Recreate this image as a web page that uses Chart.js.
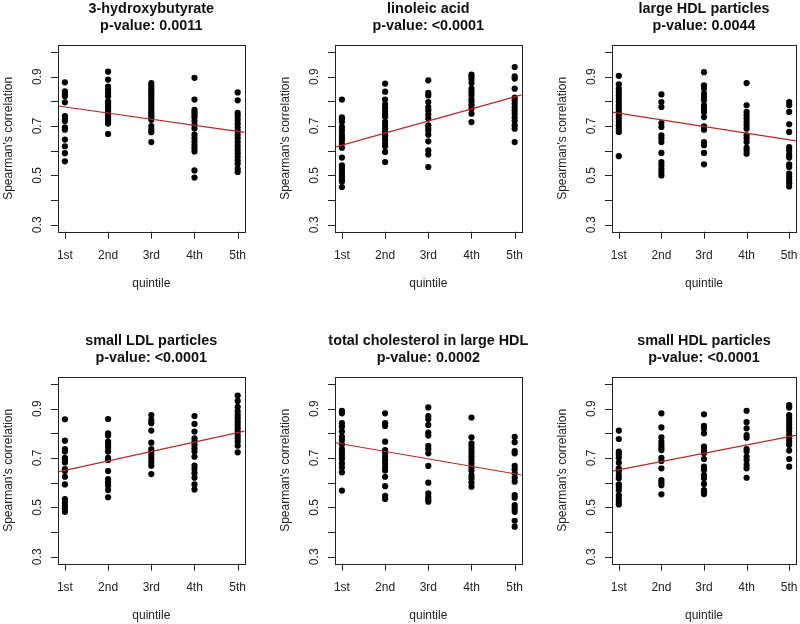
<!DOCTYPE html>
<html>
<head>
<meta charset="utf-8">
<script src="https://cdn.jsdelivr.net/npm/chart.js@4.4.0/dist/chart.umd.min.js"></script>
<style>
    body { margin: 0; background: #fff; }
    #wrap { position: relative; width: 800px; height: 624px; overflow: hidden; background: #fff; }
    #wrap canvas { position: absolute; }
</style>
</head>
<body>
<div id="wrap">
    <canvas id="c0" width="266" height="300" style="left:0px;top:0px"></canvas>
    <canvas id="c1" width="266" height="300" style="left:277px;top:0px"></canvas>
    <canvas id="c2" width="246" height="300" style="left:554px;top:0px"></canvas>
    <canvas id="c3" width="266" height="292" style="left:0px;top:332px"></canvas>
    <canvas id="c4" width="266" height="292" style="left:277px;top:332px"></canvas>
    <canvas id="c5" width="246" height="292" style="left:554px;top:332px"></canvas>
</div>
<script>
// titulos e p-valores de cada painel
const titulos = ['3-hydroxybutyrate', 'linoleic acid', 'large HDL particles', 'small LDL particles', 'total cholesterol in large HDL', 'small HDL particles']
const pValores = ['0.0011', '<0.0001', '0.0044', '<0.0001', '0.0002', '<0.0001']

const quintis = ['1st', '2nd', '3rd', '4th', '5th']
const yTicks = [0.3, 0.4, 0.5, 0.6, 0.7, 0.8, 0.9, 1.0]
const yLabels = ['0.3', '', '0.5', '', '0.7', '', '0.9', '']

// correlacoes de Spearman por quintil
const hidroxibutirato = [
    [0.877, 0.84, 0.83, 0.82, 0.796, 0.74, 0.73, 0.72, 0.695, 0.685, 0.645, 0.618, 0.59, 0.557],
    [0.92, 0.888, 0.86, 0.848, 0.835, 0.82, 0.8, 0.79, 0.78, 0.77, 0.76, 0.75, 0.74, 0.73, 0.72, 0.71, 0.668],
    [0.874, 0.865, 0.855, 0.845, 0.835, 0.825, 0.815, 0.805, 0.795, 0.785, 0.775, 0.765, 0.755, 0.745, 0.735, 0.725, 0.7, 0.685, 0.675, 0.635],
    [0.895, 0.807, 0.765, 0.755, 0.745, 0.735, 0.72, 0.705, 0.69, 0.665, 0.65, 0.637, 0.623, 0.61, 0.597, 0.52, 0.491],
    [0.836, 0.804, 0.753, 0.74, 0.725, 0.71, 0.695, 0.68, 0.665, 0.65, 0.635, 0.62, 0.605, 0.59, 0.575, 0.56, 0.547, 0.527, 0.514]
]
const acidoLinoleico = [
    [0.807, 0.735, 0.727, 0.716, 0.696, 0.682, 0.666, 0.653, 0.642, 0.628, 0.612, 0.572, 0.541, 0.53, 0.518, 0.505, 0.495, 0.485, 0.475, 0.453],
    [0.872, 0.839, 0.807, 0.788, 0.774, 0.761, 0.747, 0.736, 0.716, 0.703, 0.689, 0.676, 0.662, 0.653, 0.642, 0.628, 0.618, 0.595, 0.554],
    [0.885, 0.834, 0.824, 0.797, 0.777, 0.764, 0.747, 0.73, 0.703, 0.693, 0.682, 0.665, 0.638, 0.601, 0.585, 0.534],
    [0.908, 0.899, 0.888, 0.874, 0.851, 0.838, 0.824, 0.807, 0.797, 0.784, 0.77, 0.75, 0.716],
    [0.939, 0.901, 0.892, 0.851, 0.815, 0.804, 0.791, 0.777, 0.764, 0.75, 0.734, 0.72, 0.703, 0.689, 0.635]
]
const hdlGrande = [
    [0.903, 0.869, 0.851, 0.838, 0.824, 0.811, 0.797, 0.784, 0.77, 0.757, 0.743, 0.73, 0.716, 0.703, 0.689, 0.676, 0.578],
    [0.828, 0.797, 0.777, 0.712, 0.696, 0.662, 0.649, 0.635, 0.591, 0.554, 0.541, 0.527, 0.514, 0.5],
    [0.918, 0.865, 0.851, 0.831, 0.818, 0.804, 0.784, 0.77, 0.757, 0.736, 0.699, 0.685, 0.635, 0.622, 0.591, 0.545],
    [0.874, 0.784, 0.757, 0.743, 0.73, 0.716, 0.703, 0.689, 0.662, 0.649, 0.635, 0.612, 0.601, 0.588],
    [0.797, 0.784, 0.757, 0.707, 0.676, 0.615, 0.601, 0.585, 0.572, 0.545, 0.534, 0.507, 0.493, 0.48, 0.468, 0.455]
]
const ldlPequeno = [
    [0.857, 0.77, 0.736, 0.726, 0.701, 0.692, 0.682, 0.655, 0.647, 0.624, 0.593, 0.534, 0.52, 0.505, 0.496, 0.482],
    [0.858, 0.8, 0.791, 0.766, 0.755, 0.742, 0.726, 0.701, 0.692, 0.647, 0.615, 0.601, 0.588, 0.57, 0.541],
    [0.874, 0.854, 0.841, 0.811, 0.762, 0.736, 0.726, 0.712, 0.699, 0.685, 0.669, 0.635],
    [0.87, 0.838, 0.807, 0.78, 0.766, 0.753, 0.739, 0.726, 0.705, 0.669, 0.655, 0.638, 0.62, 0.593, 0.572],
    [0.953, 0.931, 0.907, 0.888, 0.874, 0.861, 0.847, 0.834, 0.82, 0.807, 0.793, 0.78, 0.766, 0.75, 0.723]
]
const colesterolHdlGrande = [
    [0.891, 0.881, 0.841, 0.827, 0.807, 0.786, 0.773, 0.755, 0.736, 0.723, 0.709, 0.696, 0.678, 0.662, 0.642, 0.568],
    [0.881, 0.841, 0.83, 0.766, 0.732, 0.719, 0.705, 0.692, 0.678, 0.661, 0.649, 0.624, 0.586, 0.547, 0.534],
    [0.905, 0.87, 0.858, 0.834, 0.803, 0.791, 0.749, 0.735, 0.719, 0.668, 0.6, 0.557, 0.543, 0.532, 0.523],
    [0.864, 0.784, 0.759, 0.746, 0.732, 0.719, 0.705, 0.692, 0.678, 0.662, 0.649, 0.631, 0.618, 0.601, 0.584],
    [0.786, 0.764, 0.728, 0.719, 0.668, 0.654, 0.638, 0.62, 0.604, 0.55, 0.539, 0.509, 0.496, 0.482, 0.446, 0.422]
]
const hdlPequeno = [
    [0.811, 0.777, 0.726, 0.715, 0.701, 0.681, 0.658, 0.647, 0.631, 0.618, 0.593, 0.584, 0.57, 0.55, 0.536, 0.523, 0.512],
    [0.881, 0.824, 0.784, 0.766, 0.753, 0.742, 0.732, 0.701, 0.688, 0.658, 0.611, 0.601, 0.59, 0.553],
    [0.877, 0.83, 0.818, 0.8, 0.746, 0.732, 0.719, 0.696, 0.665, 0.651, 0.631, 0.618, 0.595, 0.57, 0.561, 0.554],
    [0.891, 0.845, 0.82, 0.793, 0.782, 0.736, 0.726, 0.705, 0.692, 0.672, 0.658, 0.62],
    [0.914, 0.904, 0.874, 0.861, 0.847, 0.834, 0.82, 0.807, 0.793, 0.78, 0.766, 0.753, 0.73, 0.696, 0.665]
]

// reta de regressao: valor no 1st e no 5th
const retaNo1 = [0.777, 0.622, 0.752, 0.65, 0.757, 0.652]
const retaNo5 = [0.678, 0.818, 0.644, 0.803, 0.636, 0.786]

const paineis = [hidroxibutirato, acidoLinoleico, hdlGrande, ldlPequeno, colesterolHdlGrande, hdlPequeno]

const fonte = "'Liberation Sans', Arial, sans-serif"
const xMin = 0.84, xMax = 5.16
const yMin = 0.272, yMax = 1.028

/*
* Plugin que desenha caixa, eixos e textos no estilo do R
*/
const eixosR = {
    id: 'eixosR',
    afterDraw(chart, args, opts) {
        const ctx = chart.ctx
        const a = chart.chartArea
        const sx = chart.scales.x
        const sy = chart.scales.y
        ctx.save()
        ctx.strokeStyle = '#222'
        ctx.lineWidth = 1
        ctx.strokeRect(Math.round(a.left) + 0.5, Math.round(a.top) + 0.5, Math.round(a.right - a.left), Math.round(a.bottom - a.top))

        ctx.beginPath()
        yTicks.forEach(v => {
            const py = Math.round(sy.getPixelForValue(v)) + 0.5
            ctx.moveTo(a.left - 7, py)
            ctx.lineTo(a.left, py)
        })
        quintis.forEach((q, i) => {
            const px = Math.round(sx.getPixelForValue(i + 1)) + 0.5
            ctx.moveTo(px, a.bottom)
            ctx.lineTo(px, a.bottom + 7)
        })
        ctx.stroke()

        ctx.fillStyle = '#222'
        ctx.font = '12px ' + fonte
        ctx.textAlign = 'center'
        ctx.textBaseline = 'alphabetic'
        quintis.forEach((q, i) => {
            ctx.fillText(q, sx.getPixelForValue(i + 1), a.bottom + 27.5)
        })
        ctx.fillText('quintile', (a.left + a.right) / 2, a.bottom + 55)

        yTicks.forEach((v, i) => {
            if (!yLabels[i]) return
            ctx.save()
            ctx.translate(a.left - 17.5, sy.getPixelForValue(v))
            ctx.rotate(-Math.PI / 2)
            ctx.fillText(yLabels[i], 0, 0)
            ctx.restore()
        })
        ctx.save()
        ctx.translate(a.left - 45.7, (a.top + a.bottom) / 2)
        ctx.rotate(-Math.PI / 2)
        ctx.fillText("Spearman's correlation", 0, 0)
        ctx.restore()

        ctx.fillStyle = '#111'
        ctx.font = 'bold 14.4px ' + fonte
        const cx = (a.left + a.right) / 2
        ctx.fillText(opts.titulo, cx, a.top - 32.5)
        ctx.fillText('p-value: ' + opts.p, cx, a.top - 15.2)
        ctx.restore()
    }
}

paineis.forEach((valores, k) => {
    const canvas = document.getElementById('c' + k)
    const W = canvas.width
    const H = canvas.height

    const pontos = []
    valores.forEach((lista, q) => {
        lista.forEach(v => pontos.push({ x: q + 1, y: v }))
    })

    const b = (retaNo5[k] - retaNo1[k]) / 4
    const reta = [
        { x: xMin, y: retaNo1[k] + b * (xMin - 1) },
        { x: xMax, y: retaNo1[k] + b * (xMax - 1) }
    ]

    new Chart(canvas.getContext('2d'), {
        type: 'scatter',
        data: {
            datasets: [{
                type: 'line',
                data: reta,
                borderColor: '#b8262b',
                borderWidth: 1.2,
                pointRadius: 0,
                fill: false
            }, {
                type: 'scatter',
                data: pontos,
                pointRadius: 3.1,
                pointBackgroundColor: '#000',
                pointBorderWidth: 0
            }]
        },
        options: {
            responsive: false,
            animation: false,
            layout: {
                padding: { left: 58, top: 45, right: W - 58 - 186.6, bottom: H - 45 - 186.7 }
            },
            scales: {
                x: { type: 'linear', display: false, min: xMin, max: xMax },
                y: { type: 'linear', display: false, min: yMin, max: yMax }
            },
            plugins: {
                legend: { display: false },
                tooltip: { enabled: false },
                eixosR: { titulo: titulos[k], p: pValores[k] }
            }
        },
        plugins: [eixosR]
    })
})
</script>
</body>
</html>
